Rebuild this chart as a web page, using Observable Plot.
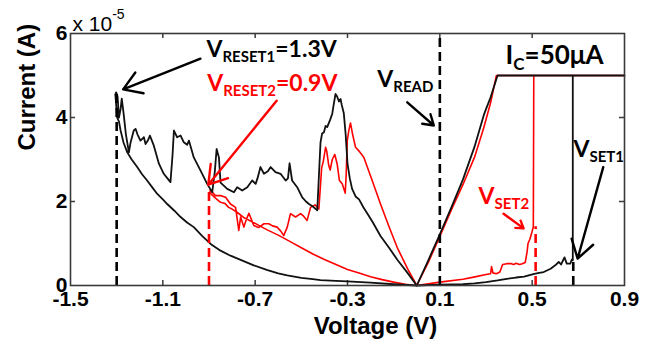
<!DOCTYPE html>
<html>
<head>
<meta charset="utf-8">
<script src="https://cdn.jsdelivr.net/npm/d3@7"></script>
<script src="https://cdn.jsdelivr.net/npm/@observablehq/plot@0.6"></script>
<style>
  body { margin: 0; background: #fff; }
  #chart svg { display: block; }
</style>
</head>
<body>
<div id="chart"></div>
<script>
// Current values are in units of 1e-5 A (see the axis multiplier).
// Axis ticks
const xTicks = [-1.5, -1.1, -0.7, -0.3, 0.1, 0.5, 0.9];
const yTicks = [0, 2, 4, 6];
const xInnerTicks = [-1.1, -0.7, -0.3, 0.1, 0.5];
const yInnerTicks = [2, 4];

// Cycle 1 (black): SET sweep from HRS, compliance at 50 µA, back down along LRS
const cycle1Set = [
  [0, 0], [0.1, 0.02], [0.2, 0.03], [0.25, 0.05], [0.3, 0.08], [0.35, 0.12], [0.39, 0.16],
  [0.43, 0.19], [0.465, 0.21], [0.505, 0.27], [0.53, 0.3], [0.55, 0.32], [0.58, 0.4],
  [0.6, 0.48], [0.615, 0.56], [0.625, 0.5], [0.64, 0.67], [0.65, 0.52], [0.665, 0.52],
  [0.672, 0.62], [0.676, 0.6], [0.676, 5], [0.9, 5], [0.35, 5], [0.32, 4.48], [0.3, 4.2],
  [0.29, 4.05], [0.25, 3.3], [0.2, 2.52], [0.15, 1.86], [0.1, 1.22], [0.05, 0.6], [0, 0]
];

// Cycle 1 (black): RESET sweep 0 -> -1.3 V, then return along HRS
const cycle1Reset = [
  [0, 0], [-0.04, 0.3], [-0.085, 0.62], [-0.12, 0.9], [-0.157, 1.18], [-0.19, 1.5],
  [-0.21, 1.68], [-0.23, 1.85], [-0.25, 2.05], [-0.265, 2.12], [-0.28, 2.3], [-0.29, 2.55],
  [-0.3, 2.9], [-0.308, 3.6], [-0.316, 4.1], [-0.325, 4.3], [-0.33, 4.44], [-0.337, 4.38],
  [-0.345, 4.5], [-0.352, 4.56], [-0.36, 4.3], [-0.366, 4.09], [-0.375, 3.95], [-0.388, 3.77],
  [-0.395, 3.8], [-0.402, 3.65], [-0.41, 3.62], [-0.417, 3.4], [-0.431, 1.79], [-0.45, 1.88],
  [-0.467, 1.94], [-0.48, 2.0], [-0.496, 2.1], [-0.518, 2.34], [-0.54, 2.5], [-0.551, 2.91],
  [-0.558, 2.55], [-0.568, 2.5], [-0.59, 2.66], [-0.612, 2.7], [-0.633, 2.82], [-0.645, 2.72],
  [-0.662, 2.66], [-0.677, 2.82], [-0.69, 2.55], [-0.698, 2.42], [-0.713, 2.5], [-0.734, 2.34],
  [-0.756, 2.26], [-0.778, 2.34], [-0.792, 2.22], [-0.821, 2.3], [-0.85, 2.45], [-0.857, 3.05],
  [-0.867, 3.25], [-0.875, 2.7], [-0.886, 2.22], [-0.908, 2.42], [-0.937, 2.74], [-0.966, 3.05],
  [-0.987, 3.45], [-0.995, 3.35], [-1.009, 3.41], [-1.023, 3.57], [-1.038, 3.53], [-1.052, 3.69],
  [-1.058, 3.1], [-1.067, 2.46], [-1.08, 2.55], [-1.096, 2.66], [-1.117, 2.9], [-1.139, 3.33],
  [-1.156, 3.57], [-1.165, 3.45], [-1.175, 3.37], [-1.182, 3.53], [-1.197, 3.45], [-1.21, 3.6],
  [-1.218, 3.73], [-1.226, 3.69], [-1.24, 3.4], [-1.247, 3.17], [-1.26, 3.6], [-1.27, 4.1],
  [-1.278, 4.45], [-1.283, 4.2], [-1.29, 4.0], [-1.296, 4.5], [-1.302, 4.6], [-1.306, 4.55],
  [-1.305, 4.5], [-1.298, 4.0], [-1.29, 3.9], [-1.283, 3.69], [-1.27, 3.4], [-1.254, 3.17],
  [-1.235, 3.0], [-1.211, 2.82], [-1.19, 2.65], [-1.168, 2.5], [-1.145, 2.33], [-1.124, 2.18],
  [-1.1, 2.05], [-1.081, 1.94], [-1.05, 1.78], [-1.023, 1.63], [-0.995, 1.5], [-0.966, 1.39],
  [-0.93, 1.18], [-0.893, 0.99], [-0.85, 0.83], [-0.807, 0.71], [-0.75, 0.58], [-0.706, 0.48],
  [-0.65, 0.37], [-0.6, 0.29], [-0.561, 0.24], [-0.5, 0.18], [-0.45, 0.15], [-0.417, 0.13],
  [-0.35, 0.11], [-0.301, 0.1], [-0.2, 0.07], [-0.1, 0.03], [0, 0]
];

// Cycle 2 (red): SET sweep
const cycle2Set = [
  [0, 0], [0.1, 0.08], [0.2, 0.15], [0.247, 0.2], [0.3, 0.26], [0.32, 0.28], [0.324, 0.45],
  [0.33, 0.3], [0.345, 0.28], [0.36, 0.32], [0.372, 0.5], [0.39, 0.52], [0.41, 0.52],
  [0.42, 0.5], [0.43, 0.53], [0.445, 0.5], [0.457, 0.52], [0.47, 0.55], [0.478, 0.8],
  [0.482, 1.0], [0.49, 1.1], [0.497, 1.23], [0.505, 1.4], [0.507, 5], [0.9, 5], [0.345, 5],
  [0.32, 4.35], [0.29, 3.75], [0.25, 3.05], [0.2, 2.4], [0.15, 1.8], [0.1, 1.17], [0.05, 0.55], [0, 0]
];

// Cycle 2 (red): RESET sweep 0 -> -0.9 V, then return
const cycle2Reset = [
  [0, 0], [-0.04, 0.4], [-0.085, 0.91], [-0.12, 1.4], [-0.157, 1.94], [-0.19, 2.45],
  [-0.229, 3.05], [-0.25, 3.2], [-0.265, 3.29], [-0.278, 3.6], [-0.287, 3.87], [-0.294, 3.7],
  [-0.301, 3.45], [-0.306, 2.6], [-0.31, 2.2], [-0.323, 2.42], [-0.335, 2.5], [-0.345, 2.9],
  [-0.355, 3.12], [-0.366, 3.0], [-0.375, 2.75], [-0.381, 2.85], [-0.39, 3.2], [-0.395, 3.29],
  [-0.405, 2.95], [-0.412, 2.8], [-0.424, 1.82], [-0.44, 1.92], [-0.46, 1.86], [-0.475, 1.55],
  [-0.49, 1.65], [-0.503, 1.71], [-0.525, 1.63], [-0.547, 1.71], [-0.561, 1.39], [-0.576, 1.19],
  [-0.59, 1.3], [-0.605, 1.39], [-0.625, 1.42], [-0.641, 1.47], [-0.662, 1.47], [-0.685, 1.38],
  [-0.706, 1.43], [-0.727, 1.72], [-0.74, 1.55], [-0.749, 1.39], [-0.763, 1.63], [-0.771, 1.31],
  [-0.785, 1.86], [-0.807, 1.94], [-0.828, 2.1], [-0.85, 2.14], [-0.872, 2.14], [-0.895, 2.28],
  [-0.895, 2.2], [-0.872, 2.08], [-0.85, 1.98], [-0.83, 1.95], [-0.815, 1.86], [-0.8, 1.82],
  [-0.78, 1.75], [-0.75, 1.62], [-0.7, 1.48], [-0.65, 1.33], [-0.6, 1.2], [-0.55, 1.05],
  [-0.5, 0.9], [-0.45, 0.75], [-0.4, 0.62], [-0.35, 0.5], [-0.3, 0.38], [-0.25, 0.3],
  [-0.2, 0.21], [-0.15, 0.14], [-0.1, 0.08], [-0.05, 0.03], [0, 0]
];

// Dashed voltage markers
const markers = [
  {v: -1.3, top: 4.6, color: "#000"},
  {v: -0.9, top: 2.3, color: "#ff0000"},
  {v: 0.1, top: 6, color: "#000"},
  {v: 0.515, top: 1.4, color: "#ff0000"},
  {v: 0.678, top: 0.6, color: "#000"}
];

// Annotation arrows (tail -> head)
const arrows = [
  {x1: -0.937, y1: 5.40, x2: -1.272, y2: 4.67, color: "#000"},
  {x1: -0.607, y1: 4.40, x2: -0.903, y2: 2.40, color: "#ff0000"},
  {x1: -0.041, y1: 4.36, x2: 0.074, y2: 3.81, color: "#000"},
  {x1: 0.376, y1: 1.71, x2: 0.463, y2: 1.36, color: "#ff0000"},
  {x1: 0.808, y1: 2.82, x2: 0.697, y2: 0.64, color: "#000"}
];

// Annotation labels; "_{...}" marks a subscript
const labels = [
  {x: -0.911, y: 5.43, text: "V_{RESET1}=1.3V", color: "#000", size: 23},
  {x: -0.908, y: 4.64, text: "V_{RESET2}=0.9V", color: "#ff0000", size: 23},
  {x: -0.171, y: 4.72, text: "V_{READ}", color: "#000", size: 23},
  {x: 0.385, y: 5.28, text: "I_{C}=50μA", color: "#000", size: 26},
  {x: 0.679, y: 3.05, text: "V_{SET1}", color: "#000", size: 23},
  {x: 0.268, y: 1.95, text: "V_{SET2}", color: "#ff0000", size: 23}
];

const multiplier = ["x 10^{-5}"];
const xLabel = ["Voltage (V)"];
const yLabel = ["Current (A)"];

const W = 670, H = 352;
const mL = 70, mR = 46, mT = 33, mB = 67;
const frameW = W - mL - mR, frameH = H - mT - mB;
const tickLen = 5;
const axisColor = "#3a3a3a";
const sans = "'Liberation Sans', Arial, sans-serif";
const annoFont = "Lato, 'Open Sans', sans-serif";

const chart = Plot.plot({
  width: W,
  height: H,
  marginLeft: mL,
  marginRight: mR,
  marginTop: mT,
  marginBottom: mB,
  style: {fontFamily: sans, background: "#fff", color: "#000"},
  x: {domain: [-1.5, 0.9]},
  y: {domain: [0, 6]},
  marks: [
    Plot.axisX({ticks: xTicks, tickSize: 0, tickPadding: 6, tickFormat: d => String(d),
      fontSize: 21, fontWeight: "bold", label: null}),
    Plot.axisY({ticks: yTicks, tickSize: 0, tickPadding: 3, tickFormat: d => String(d),
      fontSize: 21, fontWeight: "bold", label: null}),
    // inward ticks on all four sides
    Plot.tickX(xInnerTicks, {x: d => d, insetTop: frameH - tickLen, stroke: axisColor, strokeWidth: 1.5}),
    Plot.tickX(xInnerTicks, {x: d => d, insetBottom: frameH - tickLen, stroke: axisColor, strokeWidth: 1.5}),
    Plot.tickY(yInnerTicks, {y: d => d, insetRight: frameW - tickLen, stroke: axisColor, strokeWidth: 1.5}),
    Plot.tickY(yInnerTicks, {y: d => d, insetLeft: frameW - tickLen, stroke: axisColor, strokeWidth: 1.5}),
    // I-V curves
    Plot.line(cycle2Set, {x: d => d[0], y: d => d[1], stroke: "#ff0000", strokeWidth: 1.6}),
    Plot.line(cycle2Reset, {x: d => d[0], y: d => d[1], stroke: "#ff0000", strokeWidth: 1.6}),
    Plot.line(cycle1Set, {x: d => d[0], y: d => d[1], stroke: "#111", strokeWidth: 1.8}),
    Plot.line(cycle1Reset, {x: d => d[0], y: d => d[1], stroke: "#111", strokeWidth: 1.8}),
    // voltage markers
    Plot.ruleX(markers, {x: "v", y1: () => 0, y2: "top", stroke: "color",
      strokeWidth: 2.6, strokeDasharray: "9,5"}),
    Plot.frame({stroke: axisColor, strokeWidth: 1.6}),
    Plot.arrow(arrows, {x1: "x1", y1: "y1", x2: "x2", y2: "y2", stroke: "color",
      strokeWidth: 2.4, headLength: 13, headAngle: 65}),
    Plot.text(labels, {x: "x", y: "y", text: "text", fill: "color", fontSize: "size",
      fontWeight: "bold", fontFamily: annoFont, textAnchor: "start", lineAnchor: "bottom",
      className: "rich"}),
    Plot.text(multiplier, {x: () => -1.5, y: () => 6, text: d => d, textAnchor: "start",
      lineAnchor: "bottom", dx: 2, dy: -3, fontSize: 21, className: "rich"}),
    Plot.text(xLabel, {frameAnchor: "bottom", text: d => d, dx: 28, dy: 48,
      lineAnchor: "bottom", fontSize: 24, fontWeight: "bold"}),
    Plot.text(yLabel, {frameAnchor: "left", text: d => d, rotate: -90, dx: -43, dy: -9,
      fontSize: 24, fontWeight: "bold"})
  ]
});

document.getElementById("chart").append(chart);

// Turn "_{...}" / "^{...}" into subscript / superscript tspans
d3.select(chart).selectAll("g.rich text").each(function () {
  const m = /^(.*?)([_^])\{(.*?)\}(.*)$/.exec(this.textContent);
  if (!m) return;
  const [, head, kind, inner, tail] = m;
  const size = parseFloat(getComputedStyle(this).fontSize);
  const shift = kind === "_" ? Math.round(size * 0.22) : -Math.round(size * 0.55);
  const t = d3.select(this);
  t.text(null);
  t.append("tspan").text(head);
  t.append("tspan").attr("font-size", Math.round(size * 0.65)).attr("dy", shift).text(inner);
  if (tail) t.append("tspan").attr("dy", -shift).text(tail);
});
</script>
</body>
</html>
